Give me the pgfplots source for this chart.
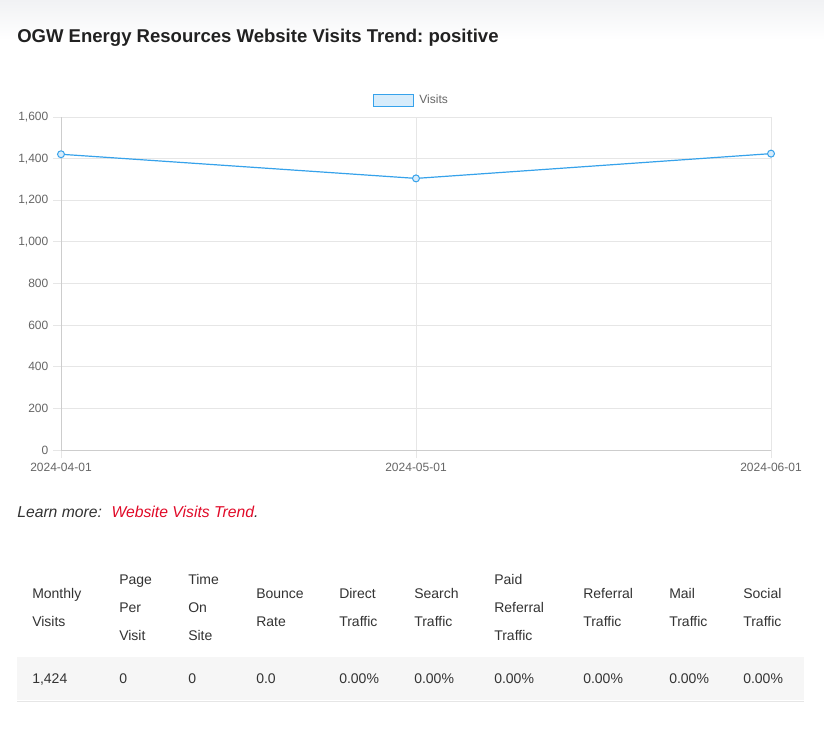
\documentclass[border=0pt]{standalone}
\usepackage{pgfplots}
\pgfplotsset{compat=1.18}
\usepackage{fontspec}
\setmainfont{Liberation Sans}
\frenchspacing
\definecolor{visline}{RGB}{54,162,235}
\definecolor{visfill}{RGB}{215,236,251}
\definecolor{gridc}{RGB}{230,230,230}
\definecolor{axisc}{RGB}{205,205,205}
\definecolor{tickc}{RGB}{102,102,102}
\definecolor{txt}{RGB}{33,33,33}
\definecolor{tabtxt}{RGB}{51,51,51}
\definecolor{linkred}{RGB}{225,10,40}
\definecolor{rowbg}{RGB}{246,246,246}
\definecolor{rowline}{RGB}{230,230,230}
\definecolor{topgrey}{RGB}{241,242,244}

\pgfplotstableread{
x y
0 1421
1 1305
2 1424
}\visits

\begin{document}
\frenchspacing
\begin{tikzpicture}
\begin{scope}[x=0.75pt,y=-0.75pt]
\fill[white] (0,0) rectangle (824,746);
\useasboundingbox (0,0) rectangle (824,746);
\shade[top color=topgrey, bottom color=white] (0,0) rectangle (824,40);
\node[anchor=base west, inner sep=0, text=txt, font=\fontsize{13.9pt}{16pt}\selectfont\bfseries] at (17,42) {OGW Energy Resources Website Visits Trend: positive};
\end{scope}

\begin{axis}[
  at={(45.75pt,-337.5pt)}, anchor=south west,
  scale only axis, width=532.5pt, height=249.75pt,
  xmin=0, xmax=2, ymin=0, ymax=1600,
  xtick={0,1,2}, xticklabels={2024-04-01,2024-05-01,2024-06-01},
  ytick={0,200,...,1600},
  grid=major, grid style={gridc, line width=0.75pt},
  axis line style={gridc, line width=0.75pt},
  tick align=outside, tick pos=left, major tick length=6pt,
  tick style={gridc, line width=0.75pt},
  ticklabel style={font=\fontsize{9pt}{10pt}\selectfont, text=tickc},
  /pgf/number format/.cd, 1000 sep={,}, assume math mode=true, /pgfplots/.cd,
  legend style={at={(0.494,1.051)}, anchor=center, draw=none, fill=none,
    font=\fontsize{9pt}{10pt}\selectfont, text=tickc, inner sep=0pt,
    nodes={inner sep=2pt}},
  legend cell align=left,
]
\draw[axisc, line width=0.75pt] (rel axis cs:0,0) -- (rel axis cs:1,0);
\draw[axisc, line width=0.75pt] (rel axis cs:0,0) -- (rel axis cs:0,1);
\addplot[visline, line width=0.9pt, mark=*, mark size=2.6pt,
  mark options={fill=visfill, draw=visline, line width=0.75pt},
  legend image code/.code={\path[draw=none,fill=none] (0pt,0pt) rectangle (32.5pt,0.1pt);\draw[fill=visfill,draw=visline,line width=0.75pt] (0pt,-4.5pt) rectangle (30pt,4.5pt);}]
  table[x=x,y=y] {\visits};
\addlegendentry{Visits}
\end{axis}

\begin{scope}[x=0.75pt,y=-0.75pt]
% Learn more
\node[anchor=base west, inner sep=0, font=\fontsize{11.8pt}{14pt}\selectfont\itshape] at (17,517)
  {\textcolor{tabtxt}{Learn more:}\hspace{0.6em}\textcolor{linkred}{Website Visits Trend}\textcolor{tabtxt}{.}};
% table
\fill[rowbg] (17,657) rectangle (804,700);
\draw[rowline, line width=0.75pt] (17,701) -- (804,701);
\begin{scope}[every node/.style={anchor=base west, inner sep=0, text=tabtxt, font=\fontsize{10.5pt}{12pt}\selectfont}]
% two-line headers
\node at (32,598) {Monthly}; \node at (32,626) {Visits};
\node at (256,598) {Bounce}; \node at (256,626) {Rate};
\node at (339,598) {Direct}; \node at (339,626) {Traffic};
\node at (414,598) {Search}; \node at (414,626) {Traffic};
\node at (583,598) {Referral}; \node at (583,626) {Traffic};
\node at (669,598) {Mail}; \node at (669,626) {Traffic};
\node at (743,598) {Social}; \node at (743,626) {Traffic};
% three-line headers
\node at (119,584) {Page}; \node at (119,612) {Per}; \node at (119,640) {Visit};
\node at (188,584) {Time}; \node at (188,612) {On}; \node at (188,640) {Site};
\node at (494,584) {Paid}; \node at (494,612) {Referral}; \node at (494,640) {Traffic};
% data row
\node at (32,683) {1,424};
\node at (119,683) {0};
\node at (188,683) {0};
\node at (256,683) {0.0};
\node at (339,683) {0.00\%};
\node at (414,683) {0.00\%};
\node at (494,683) {0.00\%};
\node at (583,683) {0.00\%};
\node at (669,683) {0.00\%};
\node at (743,683) {0.00\%};
\end{scope}
\end{scope}
\end{tikzpicture}
\end{document}
